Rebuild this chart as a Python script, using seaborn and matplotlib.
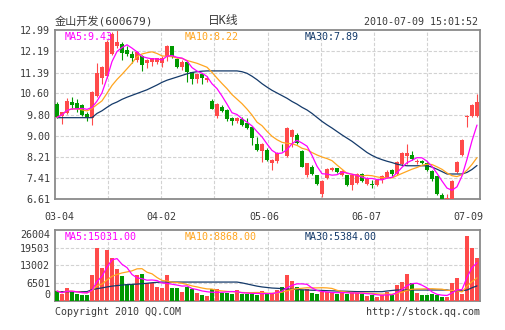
import numpy as np
import pandas as pd
import matplotlib
matplotlib.use("Agg")
import matplotlib.pyplot as plt
import seaborn as sns

# ---------------- data ----------------
stock_title = "金山开发(600679)"
chart_kind = "日K线"
timestamp = "2010-07-09 15:01:52"
date_labels = ["03-04", "04-02", "05-06", "06-07", "07-09"]
price_ticks = [12.99, 12.19, 11.39, 10.60, 9.80, 9.00, 8.21, 7.41, 6.61]
volume_ticks = [0, 6501, 13002, 19503, 26004]
price_legend = ["MA5:9.43", "MA10:8.22", "MA30:7.89"]
volume_legend = ["MA5:15031.00", "MA10:8868.00", "MA30:5384.00"]

opens = [10.20, 9.76, 9.86, 10.27, 10.23, 10.18, 9.84, 9.68, 10.50, 11.20,
         11.25, 12.10, 12.40, 12.45, 12.22, 12.10, 11.85, 12.02, 11.74, 11.80,
         11.80, 11.75, 12.00, 12.37, 11.90, 11.58, 11.80, 11.40, 11.15, 11.33,
         11.12, 10.32, 9.77, 10.11, 9.98, 9.69, 9.55, 9.64, 9.48, 9.35,
         8.69, 8.42, 8.47, 7.97, 8.06, 8.60, 8.25, 8.98, 9.02, 8.44,
         7.55, 7.85, 7.54, 6.82, 7.43, 7.73, 7.78, 7.55, 7.53, 7.15,
         7.22, 7.58, 7.18, 7.20, 7.15, 7.33, 7.45, 7.72, 7.56, 7.93,
         8.25, 8.27, 8.04, 8.06, 7.98, 7.70, 7.48, 6.78, 6.62, 6.62,
         7.65, 8.30, 9.72, 9.75, 9.75]
highs = [10.27, 9.92, 10.42, 10.47, 10.40, 10.22, 9.90, 10.68, 11.74, 11.62,
         12.60, 12.93, 12.99, 12.52, 12.40, 12.20, 12.20, 12.05, 11.88, 11.95,
         11.95, 12.00, 12.44, 12.40, 11.95, 11.85, 11.82, 11.42, 11.38, 11.38,
         11.24, 10.40, 10.25, 10.15, 10.00, 9.73, 9.72, 9.73, 9.67, 9.38,
         8.98, 8.72, 8.55, 8.15, 8.38, 8.70, 9.34, 9.25, 9.10, 8.46,
         8.00, 7.90, 7.55, 7.33, 7.80, 7.85, 7.80, 7.72, 7.55, 7.55,
         7.60, 7.62, 7.45, 7.35, 7.36, 7.55, 7.72, 7.75, 8.06, 8.38,
         8.70, 8.45, 8.12, 8.10, 8.02, 7.72, 7.50, 6.85, 6.80, 7.35,
         8.06, 8.88, 9.78, 10.20, 10.57]
lows = [9.66, 9.47, 9.84, 10.02, 9.92, 9.76, 9.57, 9.40, 10.45, 10.95,
        11.20, 12.05, 12.30, 11.85, 12.00, 11.75, 11.80, 11.45, 11.55, 11.62,
        11.70, 11.60, 11.81, 11.95, 11.55, 11.50, 11.05, 10.96, 10.98, 10.95,
        11.03, 10.00, 9.69, 9.90, 9.55, 9.43, 9.50, 9.38, 9.25, 8.66,
        8.45, 8.03, 8.05, 7.71, 8.00, 8.45, 8.20, 8.60, 8.70, 7.82,
        7.45, 7.55, 7.15, 6.72, 7.40, 7.68, 7.62, 7.50, 7.12, 6.95,
        7.18, 7.28, 7.15, 7.05, 7.10, 7.22, 7.42, 7.50, 7.53, 7.88,
        7.95, 8.08, 7.95, 7.95, 7.68, 7.30, 6.78, 6.61, 6.61, 6.61,
        7.62, 8.25, 9.33, 9.72, 9.70]
closes = [9.70, 9.90, 10.30, 10.18, 10.02, 9.80, 9.72, 10.65, 11.38, 11.58,
          12.55, 12.85, 12.55, 12.12, 12.10, 11.92, 12.15, 11.67, 11.86, 11.92,
          11.92, 11.95, 12.37, 11.99, 11.58, 11.78, 11.40, 11.13, 11.33, 11.18,
          11.17, 10.02, 10.22, 9.94, 9.65, 9.55, 9.69, 9.42, 9.30, 8.94,
          8.48, 8.69, 8.10, 8.08, 8.35, 8.57, 9.32, 9.23, 8.72, 7.84,
          7.98, 7.58, 7.19, 7.31, 7.77, 7.78, 7.66, 7.68, 7.15, 7.53,
          7.57, 7.32, 7.42, 7.17, 7.33, 7.50, 7.66, 7.56, 8.03, 8.35,
          8.37, 8.12, 8.06, 7.99, 7.72, 7.40, 6.80, 6.62, 6.66, 7.32,
          8.04, 8.85, 9.75, 10.15, 10.27]
volumes = [3500, 2270, 4490, 3500, 2270, 1910, 1910, 9280, 19500, 12100,
           18620, 15550, 11490, 9040, 5960, 5960, 9280, 9900, 6330, 6330,
           4980, 4730, 9280, 4730, 4730, 3140, 5100, 4360, 2890, 2150,
           1660, 4120, 4360, 2890, 2890, 2270, 3750, 2520, 2270, 2300,
           2200, 3500, 2450, 2400, 3870, 5100, 9400, 7190, 5100, 3870,
           4240, 2890, 2400, 3140, 3140, 3140, 2520, 2890, 2520, 2890,
           2890, 2400, 1780, 2030, 1410, 2030, 3140, 2030, 5720, 6950,
           9770, 6580, 2890, 2030, 2030, 2400, 2030, 1410, 1410, 6580,
           8180, 2520, 23900, 19250, 15790]
ma30_price = [9.69, 9.69, 9.69, 9.69, 9.69, 9.69, 9.69, 9.69, 9.85, 9.95,
              10.08, 10.20, 10.28, 10.38, 10.46, 10.53, 10.60, 10.67, 10.74, 10.83,
              10.92, 11.02, 11.10, 11.16, 11.22, 11.28, 11.34, 11.39, 11.42, 11.44,
              11.45, 11.45, 11.45, 11.45, 11.45, 11.45, 11.45, 11.42, 11.36, 11.25,
              11.12, 10.97, 10.84, 10.72, 10.62, 10.52, 10.42, 10.30, 10.20, 10.08,
              9.98, 9.85, 9.70, 9.55, 9.42, 9.30, 9.17, 9.04, 8.92, 8.80,
              8.66, 8.52, 8.38, 8.27, 8.18, 8.11, 8.05, 8.00, 7.94, 7.90,
              7.88, 7.88, 7.88, 7.88, 7.88, 7.83, 7.75, 7.66, 7.57, 7.57,
              7.57, 7.57, 7.63, 7.74, 7.89]
ma30_volume = [3260, 3260, 3260, 3260, 3260, 3260, 3260, 4000, 4350, 4650,
               5000, 5300, 5500, 5700, 5850, 5950, 6050, 6200, 6350, 6550,
               6700, 6800, 6800, 6800, 6800, 6800, 6800, 6800, 6800, 6800,
               6800, 6800, 6800, 6800, 6800, 6800, 6800, 6500, 6100, 5700,
               5300, 5000, 4800, 4600, 4500, 4400, 4250, 4150, 4050, 3950,
               3870, 3800, 3750, 3700, 3630, 3570, 3500, 3450, 3400, 3330,
               3270, 3260, 3260, 3260, 3260, 3260, 3500, 3700, 3870, 3870,
               3870, 3870, 3870, 3870, 3870, 3870, 3870, 3870, 3870, 3600,
               3550, 3600, 3870, 4700, 5384]

# ---------------- style ----------------
RED = "#ff4a4a"
GREEN = "#009900"
MAG = "#ff00ff"
ORANGE = "#ffa51f"
NAVY = "#143a6a"
GRID = "#d2d2d2"
SPINE = "#8a8a8a"
TXT = "#3a3a3a"

sns.set_theme(style="white")
plt.rcParams["font.family"] = ["DejaVu Sans Mono", "Noto Sans CJK SC"]
plt.rcParams["axes.unicode_minus"] = False

W, H = 505, 330
fig = plt.figure(figsize=(W / 100, H / 100), dpi=100)
fig.patch.set_facecolor("white")


def fx(px):
    return px / W


def fy(py):
    return 1 - py / H


ax = fig.add_axes([fx(55), fy(199.5), 425 / W, 169.5 / H])
axv = fig.add_axes([fx(55), fy(300.5), 425 / W, 70.5 / H])

df = pd.DataFrame({"open": opens, "high": highs, "low": lows,
                   "close": closes, "volume": volumes})
df["x"] = np.arange(len(df))
df["up"] = df["close"] >= df["open"]
colors = np.where(df["up"], RED, GREEN)

XMIN, XMAX = -0.4, len(df) - 0.4
dash = (0, (3.0, 1.6))

for a in (ax, axv):
    a.set_xlim(XMIN, XMAX)
    for k in range(1, 8):
        a.axvline(XMIN + (XMAX - XMIN) * k / 8, color=GRID, lw=0.8, ls=dash, zorder=0)
    for s in a.spines.values():
        s.set_color(SPINE)
        s.set_linewidth(1.3)

ax.set_ylim(price_ticks[-1], price_ticks[0])
axv.set_ylim(volume_ticks[0], volume_ticks[-1])
for t in price_ticks[1:-1]:
    ax.axhline(t, color=GRID, lw=0.8, ls=dash, zorder=0)
for t in volume_ticks[1:-1]:
    axv.axhline(t, color=GRID, lw=0.8, ls=dash, zorder=0)

# candles
body_low = np.minimum(df["open"], df["close"])
body_h = np.maximum((df["close"] - df["open"]).abs(), 0.03)
ax.vlines(df["x"], df["low"], df["high"], colors=colors, lw=0.8, zorder=2)
ax.bar(df["x"], body_h, bottom=body_low, width=0.76, color=colors, linewidth=0, zorder=3)

# price MAs
ma5 = df["close"].rolling(5, min_periods=1).mean()
ma10 = df["close"].rolling(10, min_periods=1).mean()
sns.lineplot(x=df["x"], y=ma30_price, ax=ax, color=NAVY, lw=0.9, zorder=4)
sns.lineplot(x=df["x"], y=ma10, ax=ax, color=ORANGE, lw=0.9, zorder=5)
sns.lineplot(x=df["x"], y=ma5, ax=ax, color=MAG, lw=0.9, zorder=6)

# volume
axv.bar(df["x"], df["volume"], width=0.76, color=colors, linewidth=0, zorder=3)
vma5 = df["volume"].rolling(5, min_periods=1).mean()
vma10 = df["volume"].rolling(10, min_periods=1).mean()
sns.lineplot(x=df["x"], y=ma30_volume, ax=axv, color=NAVY, lw=0.9, zorder=4)
sns.lineplot(x=df["x"], y=vma10, ax=axv, color=ORANGE, lw=0.9, zorder=5)
sns.lineplot(x=df["x"], y=vma5, ax=axv, color=MAG, lw=0.9, zorder=6)

for a in (ax, axv):
    a.set_xlabel("")
    a.set_ylabel("")

# ticks
ax.set_yticks(price_ticks)
ax.set_yticklabels([f"{t:.2f}" for t in price_ticks])
label_pos = [0.5, 20.9, 41.5, 61.9, 82.3]
ax.set_xticks(label_pos)
ax.set_xticklabels(date_labels)
ax.tick_params(axis="y", length=0, pad=3.5, labelsize=7.2, labelcolor=TXT)
ax.tick_params(axis="x", length=0, pad=9, labelsize=7.2, labelcolor=TXT)

axv.set_yticks(volume_ticks)
axv.set_yticklabels([str(t) for t in volume_ticks])
axv.set_xticks([])
axv.tick_params(axis="y", length=0, pad=3.5, labelsize=7.2, labelcolor=TXT)
vl = axv.get_yticklabels()
vl[0].set_va("bottom")
vl[-1].set_va("top")

# legends
lcols = [MAG, ORANGE, NAVY]
lx = [0.0235, 0.306, 0.588]
for txt, c, x in zip(price_legend, lcols, lx):
    ax.text(x, 0.958, txt, transform=ax.transAxes, color=c, fontsize=7.2,
            ha="left", va="center", zorder=10)
for txt, c, x in zip(volume_legend, lcols, lx):
    axv.text(x, 0.90, txt, transform=axv.transAxes, color=c, fontsize=7.2,
             ha="left", va="center", zorder=10)

# header/footer
fig.text(fx(55), fy(21), stock_title, fontsize=8, color=TXT, ha="left", va="center")
fig.text(fx(208), fy(20.5), chart_kind, fontsize=8.5, color=TXT, ha="left", va="center")
fig.text(fx(478), fy(22), timestamp, fontsize=7.2, color=TXT, ha="right", va="center")
fig.text(fx(55), fy(312), "Copyright 2010 QQ.COM", fontsize=7.2, color=TXT, ha="left", va="center")
fig.text(fx(480), fy(312), "http://stock.qq.com", fontsize=7.2, color=TXT, ha="right", va="center")

fig.savefig("out.png", dpi=100, facecolor="white")
